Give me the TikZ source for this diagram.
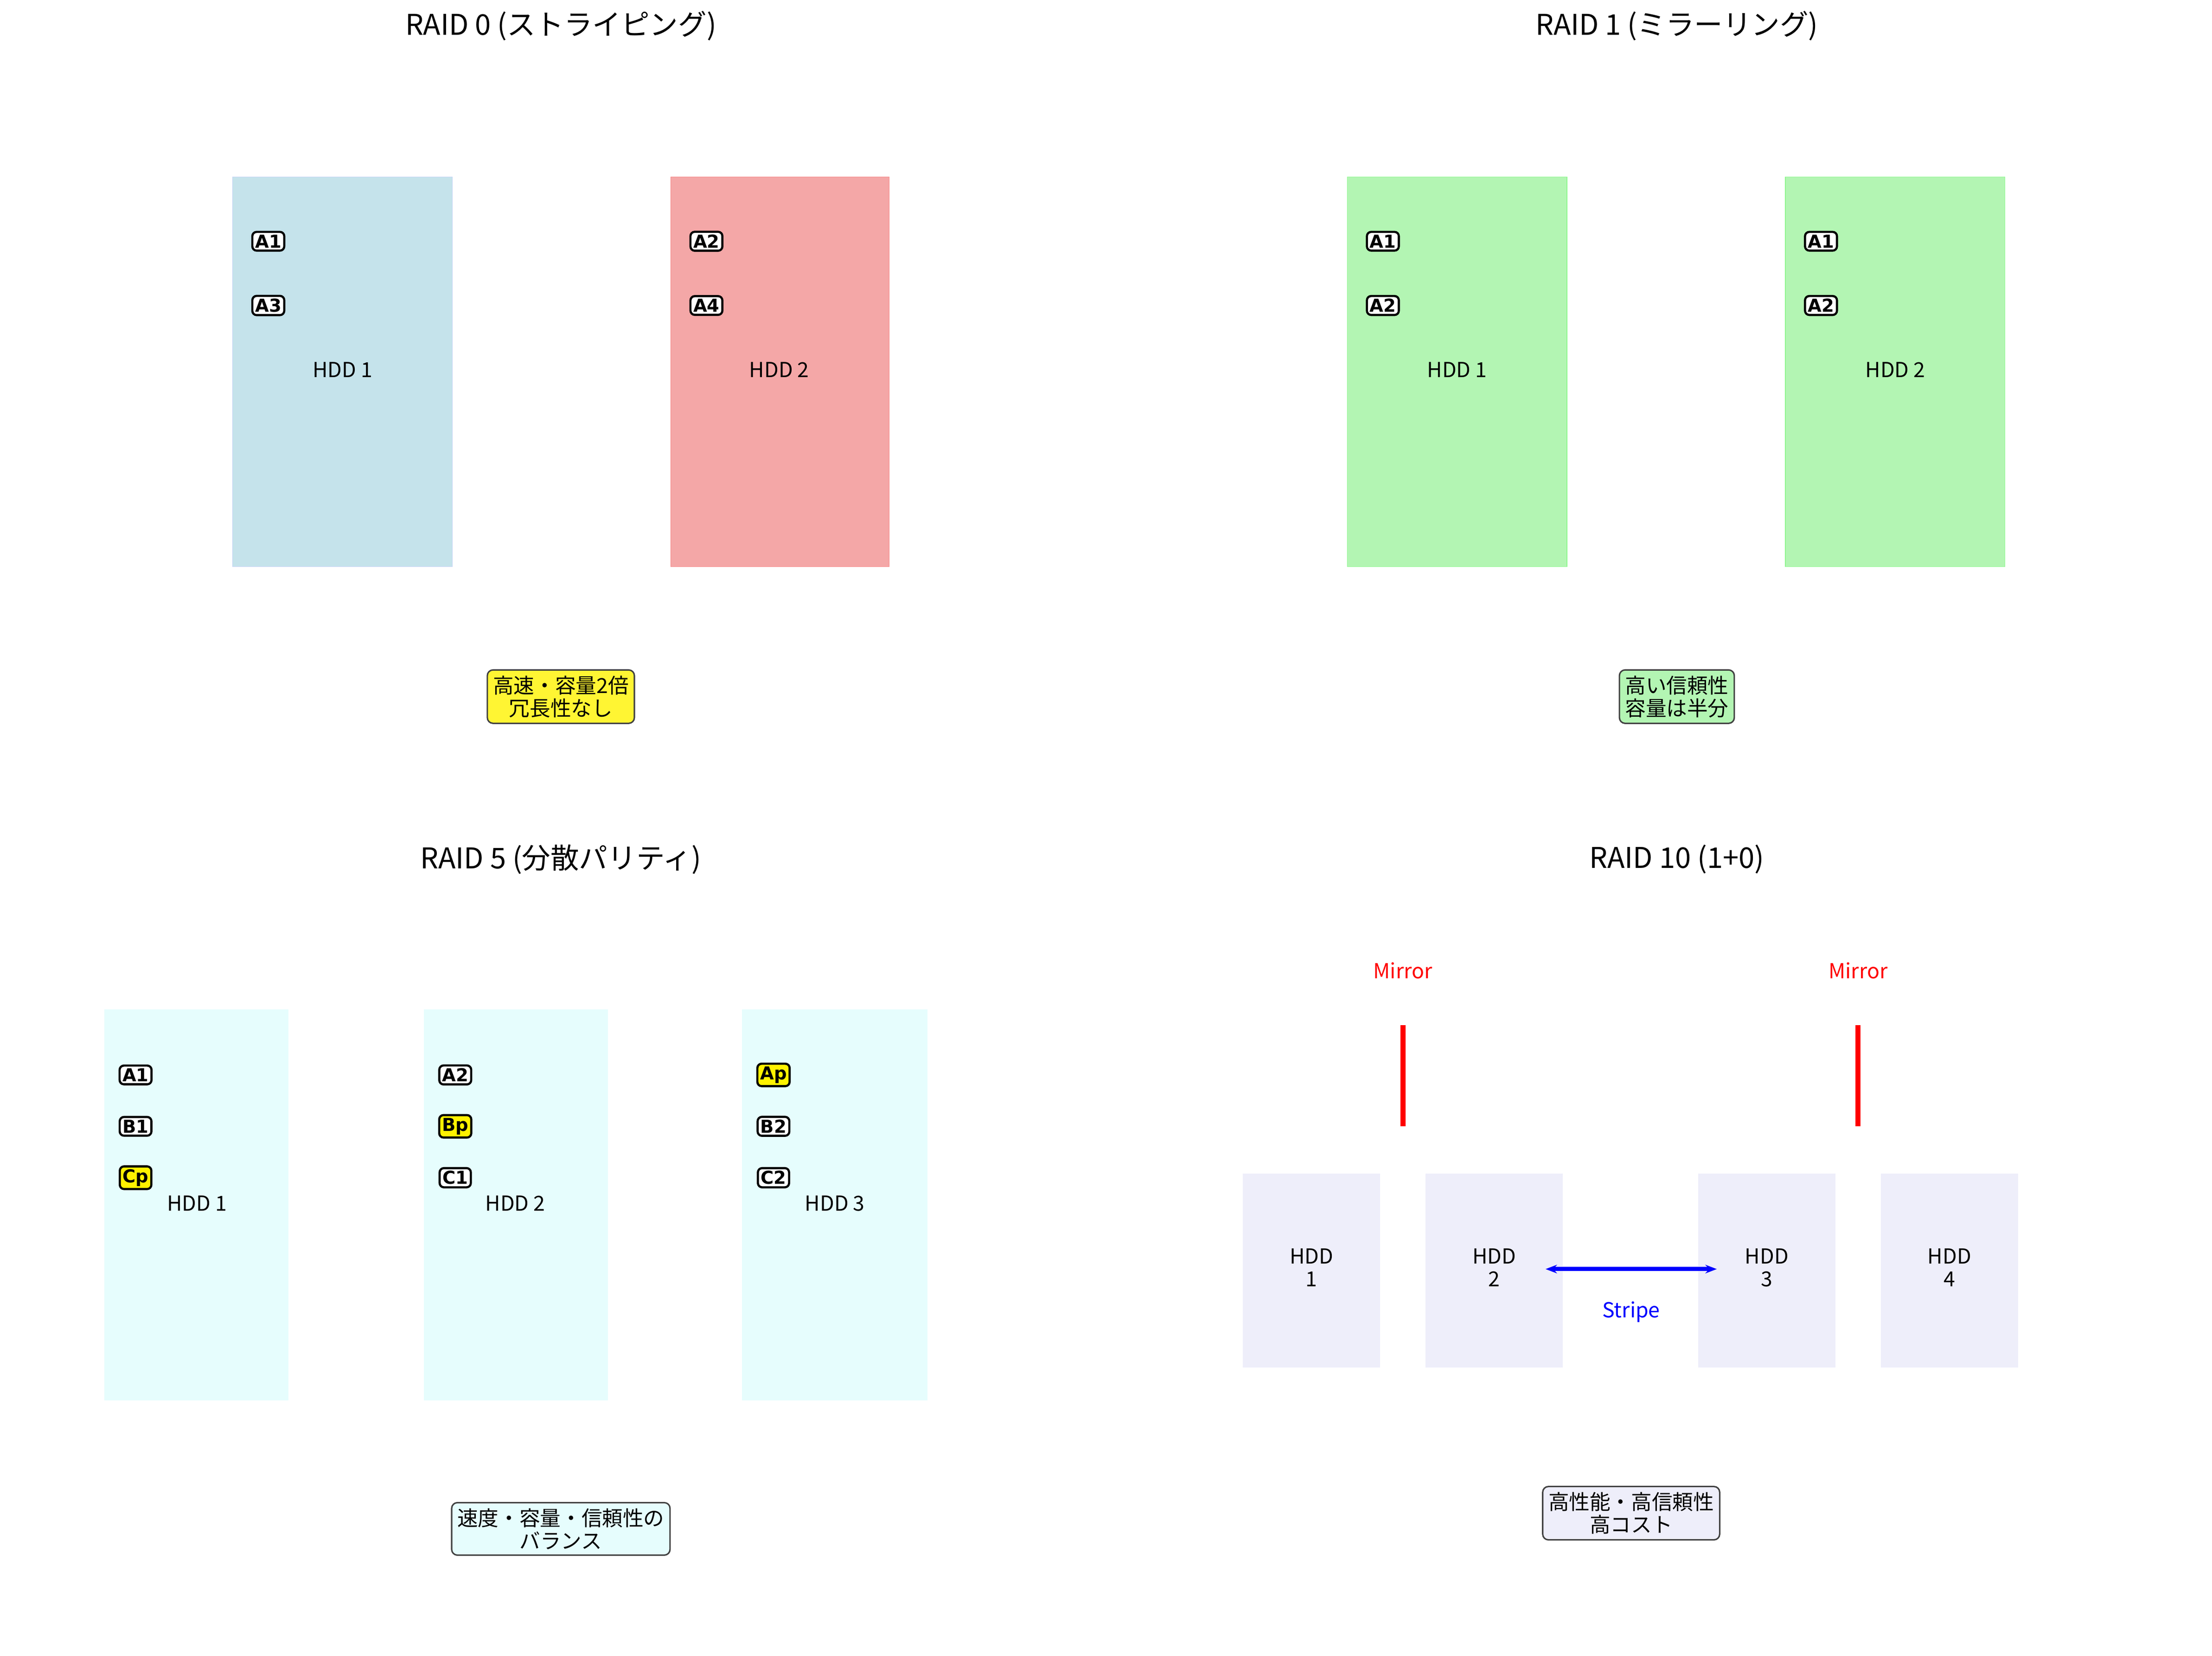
\documentclass[tikz,border=0pt]{standalone}
\usepackage{fontspec}
\setmainfont{Noto Sans CJK JP}
\newfontfamily\blk{DejaVu Sans}
\usetikzlibrary{arrows.meta}
\definecolor{cblue}{HTML}{C5E3EB}
\definecolor{cred}{HTML}{F4A7A7}
\definecolor{cgreen}{HTML}{B3F5B3}
\definecolor{ccyan}{HTML}{E6FDFD}
\definecolor{clav}{HTML}{EEEEFA}
\begin{document}
\begin{tikzpicture}[x=1pt,y=-1pt,
 ttl/.style={font=\fontsize{20}{24}\selectfont},
 lbl/.style={font=\fontsize{14.5}{16}\selectfont,align=center},
 blk/.style={draw=black,line width=1.5pt,rounded corners=3pt,fill=white,inner sep=2pt,font=\blk\bfseries\fontsize{12.5}{13}\selectfont},
 par/.style={blk,fill=yellow},
 note/.style={draw=black!75,line width=1pt,rounded corners=4pt,inner sep=4pt,align=center,font=\fontsize{14.5}{16}\selectfont}]
\useasboundingbox (0,0) rectangle (1550,1160);
% RAID 0
\node[ttl] (t0) at (393,18) {RAID 0 (ストライピング)};
\fill[cblue] (163,124) rectangle (317,397);
\draw[cblue!80!blue!60] (163,124) rectangle (317,397);
\fill[cred] (470,124) rectangle (623,397);
\draw[cred!80!red] (470,124) rectangle (623,397);
\node[blk] (a1) at (188,169) {A1};
\node[blk] (a3) at (188,214) {A3};
\node[lbl] (h1) at (240,259) {HDD 1};
\node[blk] (a2) at (495,169) {A2};
\node[blk] (a4) at (495,214) {A4};
\node[lbl] (h2) at (546,259) {HDD 2};
\node[note,fill=yellow!80!white] (n0) at (393,488) {高速・容量2倍\\冗長性なし};
% RAID 1
\node[ttl] (t1) at (1175,18) {RAID 1 (ミラーリング)};
\fill[cgreen] (944,124) rectangle (1098,397);
\draw[cgreen!80!green] (944,124) rectangle (1098,397);
\fill[cgreen] (1251,124) rectangle (1405,397);
\draw[cgreen!80!green] (1251,124) rectangle (1405,397);
\node[blk] (b1) at (969,169) {A1};
\node[blk] (b2) at (969,214) {A2};
\node[lbl] (bh1) at (1021,259) {HDD 1};
\node[blk] (b3) at (1276,169) {A1};
\node[blk] (b4) at (1276,214) {A2};
\node[lbl] (bh2) at (1328,259) {HDD 2};
\node[note,fill=cgreen] (n1) at (1175,488) {高い信頼性\\容量は半分};
% RAID 5
\node[ttl] (t5) at (393,602) {RAID 5 (分散パリティ)};
\fill[ccyan] (73,707) rectangle (202,981);
\fill[ccyan] (297,707) rectangle (426,981);
\fill[ccyan] (520,707) rectangle (650,981);
\node[blk] (c1) at (95,753) {A1};
\node[blk] (c2) at (95,789) {B1};
\node[par] (c3) at (95,825) {Cp};
\node[lbl] (ch1) at (138,843) {HDD 1};
\node[blk] (d1) at (319,753) {A2};
\node[par] (d2) at (319,789) {Bp};
\node[blk] (d3) at (319,825) {C1};
\node[lbl] (ch2) at (361,843) {HDD 2};
\node[par] (e1) at (542,753) {Ap};
\node[blk] (e2) at (542,789) {B2};
\node[blk] (e3) at (542,825) {C2};
\node[lbl] (ch3) at (585,843) {HDD 3};
\node[note,fill=ccyan] (n5) at (393,1071) {速度・容量・信頼性の\\バランス};
% RAID 10
\node[ttl] (t10) at (1175,602) {RAID 10 (1+0)};
\node[lbl,text=red] (m1) at (983,680) {Mirror};
\node[lbl,text=red] (m2) at (1302,680) {Mirror};
\coordinate (m1a) at (983,718); \coordinate (m1b) at (983,789);
\coordinate (m2a) at (1302,718); \coordinate (m2b) at (1302,789);
\draw[red,line width=3.5pt] (m1a) -- (m1b);
\draw[red,line width=3.5pt] (m2a) -- (m2b);
\fill[clav] (871,822) rectangle (967,958);
\fill[clav] (999,822) rectangle (1095,958);
\fill[clav] (1190,822) rectangle (1286,958);
\fill[clav] (1318,822) rectangle (1414,958);
\node[lbl] (r1) at (919,888) {HDD\\1};
\node[lbl] (r2) at (1047,888) {HDD\\2};
\node[lbl] (r3) at (1238,888) {HDD\\3};
\node[lbl] (r4) at (1366,888) {HDD\\4};
\coordinate (sa) at (1083,889); \coordinate (sb) at (1203,889);
\draw[blue,line width=3pt,{Stealth[length=8pt]}-{Stealth[length=8pt]}] (sa) -- (sb);
\node[lbl,text=blue] (st) at (1143,919) {Stripe};
\node[note,fill=clav] (n10) at (1143,1060) {高性能・高信頼性\\高コスト};
\end{tikzpicture}
\end{document}
